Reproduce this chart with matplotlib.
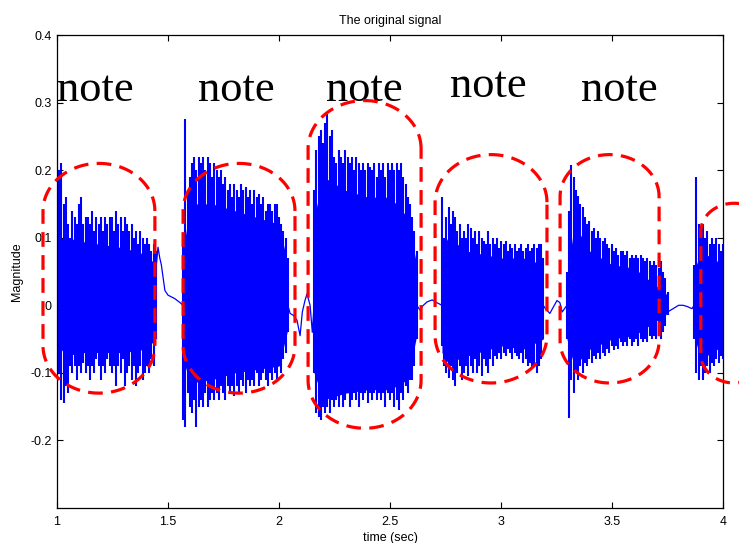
import numpy as np
import matplotlib.pyplot as plt

plt.rcParams["font.family"] = ["Liberation Sans", "DejaVu Sans"]

# ---- data -----------------------------------------------------------------
# voiced segments (note bursts): start / end time in seconds
seg_start = [1.000, 1.568, 2.158, 2.734, 3.297, 3.870]
seg_end = [1.445, 2.040, 2.620, 3.190, 3.750, 4.000]

# peak amplitude per pitch pulse (upper / lower), evenly spread over segment
peak_hi1 = [0.28, 0.20, 0.21, 0.15, 0.16, 0.12, 0.10, 0.14, 0.13, 0.12,
            0.15, 0.16, 0.12, 0.13, 0.13, 0.12, 0.14, 0.11, 0.13, 0.12,
            0.13, 0.11, 0.13, 0.12, 0.13, 0.13, 0.11, 0.14, 0.12, 0.13,
            0.11, 0.13, 0.12, 0.11, 0.12, 0.10, 0.11, 0.09, 0.11, 0.10,
            0.09, 0.10, 0.09, 0.08, 0.09, 0.08]
peak_lo1 = [-0.06, -0.10, -0.14, -0.145, -0.12, -0.13, -0.09, -0.10, -0.09,
            -0.11, -0.09, -0.10, -0.085, -0.10, -0.09, -0.11, -0.09, -0.10,
            -0.08, -0.09, -0.11, -0.09, -0.10, -0.08, -0.09, -0.10, -0.09,
            -0.12, -0.09, -0.10, -0.08, -0.12, -0.10, -0.09, -0.11, -0.09,
            -0.12, -0.10, -0.09, -0.11, -0.10, -0.09, -0.10, -0.08, -0.09,
            -0.05]
peak_hi2 = [0.10, 0.276, 0.17, 0.19, 0.21, 0.22, 0.20, 0.22, 0.21, 0.22,
            0.20, 0.22, 0.21, 0.19, 0.21, 0.20, 0.19, 0.20, 0.18, 0.19,
            0.17, 0.18, 0.16, 0.18, 0.17, 0.16, 0.18, 0.17, 0.175, 0.16,
            0.17, 0.15, 0.17, 0.16, 0.165, 0.15, 0.16, 0.14, 0.15, 0.15,
            0.14, 0.15, 0.15, 0.13, 0.12, 0.11, 0.10, 0.07]
peak_lo2 = [-0.17, -0.18, -0.13, -0.15, -0.16, -0.14, -0.18, -0.15, -0.14,
            -0.15, -0.13, -0.15, -0.14, -0.13, -0.14, -0.13, -0.14, -0.12,
            -0.13, -0.14, -0.12, -0.13, -0.12, -0.135, -0.12, -0.13, -0.11,
            -0.12, -0.13, -0.11, -0.12, -0.11, -0.12, -0.10, -0.12, -0.11,
            -0.10, -0.11, -0.12, -0.10, -0.11, -0.10, -0.11, -0.09, -0.10,
            -0.08, -0.07, -0.04]
peak_hi3 = [0.17, 0.23, 0.25, 0.26, 0.24, 0.27, 0.283, 0.25, 0.26, 0.22,
            0.21, 0.23, 0.22, 0.21, 0.23, 0.22, 0.21, 0.22, 0.20, 0.22,
            0.21, 0.20, 0.21, 0.20, 0.21, 0.205, 0.20, 0.21, 0.19, 0.21,
            0.20, 0.21, 0.19, 0.21, 0.20, 0.21, 0.20, 0.21, 0.20, 0.21,
            0.19, 0.18, 0.16, 0.15, 0.13, 0.11, 0.08]
peak_lo3 = [-0.10, -0.16, -0.165, -0.17, -0.15, -0.16, -0.15, -0.16, -0.14,
            -0.15, -0.14, -0.15, -0.13, -0.15, -0.14, -0.13, -0.15, -0.14,
            -0.13, -0.14, -0.15, -0.13, -0.14, -0.13, -0.145, -0.13, -0.14,
            -0.13, -0.14, -0.13, -0.14, -0.13, -0.15, -0.13, -0.14, -0.13,
            -0.15, -0.14, -0.155, -0.13, -0.14, -0.12, -0.13, -0.11, -0.11,
            -0.09, -0.05]
peak_hi4 = [0.16, 0.10, 0.13, 0.145, 0.12, 0.14, 0.13, 0.11, 0.12, 0.10,
            0.11, 0.10, 0.12, 0.115, 0.10, 0.11, 0.09, 0.11, 0.10, 0.095,
            0.09, 0.11, 0.09, 0.10, 0.09, 0.10, 0.085, 0.095, 0.09, 0.095,
            0.08, 0.09, 0.085, 0.09, 0.08, 0.085, 0.09, 0.08, 0.085, 0.09,
            0.08, 0.085, 0.09, 0.085, 0.09, 0.09, 0.07]
peak_lo4 = [-0.06, -0.09, -0.10, -0.108, -0.09, -0.11, -0.12, -0.10, -0.09,
            -0.11, -0.10, -0.09, -0.105, -0.09, -0.10, -0.08, -0.10, -0.09,
            -0.105, -0.08, -0.09, -0.10, -0.08, -0.09, -0.075, -0.08, -0.07,
            -0.08, -0.07, -0.075, -0.065, -0.07, -0.08, -0.07, -0.075, -0.08,
            -0.07, -0.085, -0.08, -0.09, -0.085, -0.095, -0.09, -0.10, -0.09,
            -0.08, -0.05]
peak_hi5 = [0.05, 0.14, 0.207, 0.19, 0.17, 0.162, 0.15, 0.145, 0.13, 0.12,
            0.125, 0.11, 0.115, 0.10, 0.11, 0.10, 0.095, 0.10, 0.09, 0.085,
            0.09, 0.08, 0.085, 0.075, 0.08, 0.08, 0.075, 0.08, 0.07, 0.075,
            0.07, 0.075, 0.07, 0.075, 0.07, 0.065, 0.07, 0.065, 0.06, 0.065,
            0.06, 0.055, 0.065, 0.05, 0.04, 0.02]
peak_lo5 = [-0.05, -0.167, -0.11, -0.13, -0.10, -0.11, -0.09, -0.10, -0.085,
            -0.09, -0.08, -0.086, -0.075, -0.08, -0.07, -0.08, -0.07, -0.075,
            -0.065, -0.07, -0.06, -0.066, -0.06, -0.065, -0.055, -0.06,
            -0.055, -0.06, -0.05, -0.06, -0.055, -0.05, -0.06, -0.05, -0.055,
            -0.05, -0.055, -0.045, -0.05, -0.045, -0.05, -0.04, -0.05, -0.04,
            -0.03, -0.015]
peak_hi6 = [0.06, 0.19, 0.12, 0.11, 0.12, 0.10, 0.11, 0.09, 0.10, 0.09,
            0.10, 0.09, 0.08, 0.09]
peak_lo6 = [-0.05, -0.10, -0.11, -0.09, -0.11, -0.10, -0.09, -0.10, -0.085,
            -0.09, -0.08, -0.085, -0.075, -0.08]

# dense (solid) body of each segment
body_t1 = [1.000, 1.05, 1.10, 1.20, 1.30, 1.40, 1.445]
body_hi1 = [0.10, 0.10, 0.095, 0.09, 0.085, 0.075, 0.06]
body_lo1 = [-0.06, -0.075, -0.07, -0.07, -0.07, -0.065, -0.05]
body_t2 = [1.568, 1.60, 1.70, 1.80, 1.90, 2.00, 2.040]
body_hi2 = [0.08, 0.15, 0.15, 0.14, 0.13, 0.12, 0.06]
body_lo2 = [-0.08, -0.115, -0.11, -0.10, -0.095, -0.09, -0.035]
body_t3 = [2.158, 2.20, 2.30, 2.40, 2.50, 2.58, 2.620]
body_hi3 = [0.13, 0.19, 0.17, 0.16, 0.16, 0.13, 0.06]
body_lo3 = [-0.10, -0.14, -0.13, -0.125, -0.125, -0.11, -0.045]
body_t4 = [2.734, 2.76, 2.85, 3.00, 3.10, 3.190]
body_hi4 = [0.08, 0.10, 0.08, 0.07, 0.07, 0.06]
body_lo4 = [-0.07, -0.085, -0.075, -0.06, -0.065, -0.05]
body_t5 = [3.297, 3.33, 3.40, 3.50, 3.60, 3.750]
body_hi5 = [0.04, 0.12, 0.08, 0.06, 0.055, 0.015]
body_lo5 = [-0.05, -0.09, -0.065, -0.05, -0.045, -0.012]
body_t6 = [3.870, 3.90, 4.000]
body_hi6 = [0.05, 0.08, 0.06]
body_lo6 = [-0.045, -0.08, -0.06]

# quiet stretches between notes
gap_t1 = [1.445, 1.455, 1.463, 1.470, 1.486, 1.50, 1.53, 1.554, 1.568]
gap_v1 = [0.05, 0.086, 0.07, 0.06, 0.022, 0.015, 0.01, 0.004, 0.0]
gap_t2 = [2.040, 2.050, 2.065, 2.081, 2.095, 2.105, 2.117, 2.126, 2.140,
          2.150, 2.158]
gap_v2 = [0.0, -0.012, -0.015, -0.022, -0.045, -0.01, 0.007, 0.017, 0.0,
          -0.04, 0.0]
gap_t3 = [2.620, 2.635, 2.650, 2.667, 2.690, 2.710, 2.734]
gap_v3 = [0.0, -0.007, 0.0, 0.005, 0.008, 0.004, 0.0]
gap_t4 = [3.190, 3.200, 3.220, 3.235, 3.252, 3.265, 3.275, 3.297]
gap_v4 = [0.0, -0.005, -0.012, -0.003, 0.007, 0.004, -0.01, 0.0]
gap_t5 = [3.750, 3.760, 3.780, 3.800, 3.820, 3.840, 3.860, 3.870]
gap_v5 = [-0.01, -0.008, -0.004, 0.0, 0.0, -0.002, -0.005, 0.0]

# hand drawn note outlines: left, right, bottom, top
box_left = [0.937, 1.568, 2.131, 2.703, 3.266, 3.900]
box_right = [1.441, 2.072, 2.640, 3.207, 3.712, 4.200]
box_bottom = [-0.130, -0.130, -0.182, -0.115, -0.115, -0.115]
box_top = [0.210, 0.210, 0.303, 0.223, 0.223, 0.151]

# "note" labels: left edge and baseline
note_x = [1.000, 1.635, 2.210, 2.770, 3.358]
note_y = [0.303, 0.303, 0.303, 0.308, 0.303]

peak_hi = [peak_hi1, peak_hi2, peak_hi3, peak_hi4, peak_hi5, peak_hi6]
peak_lo = [peak_lo1, peak_lo2, peak_lo3, peak_lo4, peak_lo5, peak_lo6]
body_t = [body_t1, body_t2, body_t3, body_t4, body_t5, body_t6]
body_hi = [body_hi1, body_hi2, body_hi3, body_hi4, body_hi5, body_hi6]
body_lo = [body_lo1, body_lo2, body_lo3, body_lo4, body_lo5, body_lo6]
gap_t = [gap_t1, gap_t2, gap_t3, gap_t4, gap_t5]
gap_v = [gap_v1, gap_v2, gap_v3, gap_v4, gap_v5]

XLIM = (1, 4)
YLIM = (-0.3, 0.4)


def stadium(ax, left, right, bottom, top):
    """
    Dashed rounded outline, corners sized in pixels so they look round.
    """
    bb = ax.get_window_extent()
    px_x = bb.width / (XLIM[1] - XLIM[0])
    px_y = bb.height / (YLIM[1] - YLIM[0])
    r_px = (right - left) * px_x / 2
    rx = r_px / px_x
    ry = 0.85 * r_px / px_y
    xs, ys = [], []
    # (centre x, centre y, start angle) for the four corners
    corners = [(right - rx, top - ry, 0), (left + rx, top - ry, 90),
               (left + rx, bottom + ry, 180), (right - rx, bottom + ry, 270)]
    for cx, cy, a0 in corners:
        ang = np.radians(np.linspace(a0, a0 + 90, 30))
        xs.extend(cx + rx * np.cos(ang))
        ys.extend(cy + ry * np.sin(ang))
    xs.append(xs[0])
    ys.append(ys[0])
    ax.plot(xs, ys, color="red", lw=2.3, ls=(0, (4.6, 2.6)),
            clip_on=False, zorder=6)


def plot_signal(ax):
    """
    Draws the waveform: pulses, solid body and the quiet gaps.
    """
    for i in range(len(seg_start)):
        t = np.linspace(seg_start[i], seg_end[i], len(peak_hi[i]))
        ax.vlines(t, peak_lo[i], peak_hi[i], color="blue", lw=1.5)
        ax.fill_between(body_t[i], body_lo[i], body_hi[i], color="blue",
                        lw=0)
    for i in range(len(gap_t)):
        ax.plot(gap_t[i], gap_v[i], color="blue", lw=0.9)


def main():
    fig = plt.figure(figsize=(7.39, 5.43), dpi=100)
    ax = fig.add_axes([0.0771, 0.0645, 0.9013, 0.8710])

    plot_signal(ax)

    ax.set_xlim(XLIM)
    ax.set_ylim(YLIM)
    ax.set_xticks([1, 1.5, 2, 2.5, 3, 3.5, 4])
    ax.set_xticklabels(["1", "1.5", "2", "2.5", "3", "3.5", "4"])
    ax.set_yticks([-0.2, -0.1, 0, 0.1, 0.2, 0.3, 0.4])
    ax.set_yticklabels(["-0.2", "-0.1", "0", "0.1", "0.2", "0.3", "0.4"])
    ax.tick_params(direction="in", top=True, right=True, length=4,
                   width=0.8, labelsize=9, pad=4)
    ax.tick_params(axis="x", pad=6)
    for s in ax.spines.values():
        s.set_linewidth(0.9)

    ax.set_title("The original signal", fontsize=9, pad=8)
    ax.set_xlabel("time (sec)", fontsize=9, labelpad=3)
    ax.set_ylabel("Magnitude", fontsize=9)
    ax.yaxis.set_label_coords(-0.051, 0.5)

    # note labels sit under the red outlines
    for i in range(len(note_x)):
        ax.text(note_x[i], note_y[i], "note", family="Liberation Serif",
                fontsize=32, ha="left", va="baseline", zorder=5)

    for i in range(len(box_left)):
        stadium(ax, box_left[i], box_right[i], box_bottom[i], box_top[i])

    fig.savefig("out.png", dpi=100)


if __name__ == '__main__':
    main()
